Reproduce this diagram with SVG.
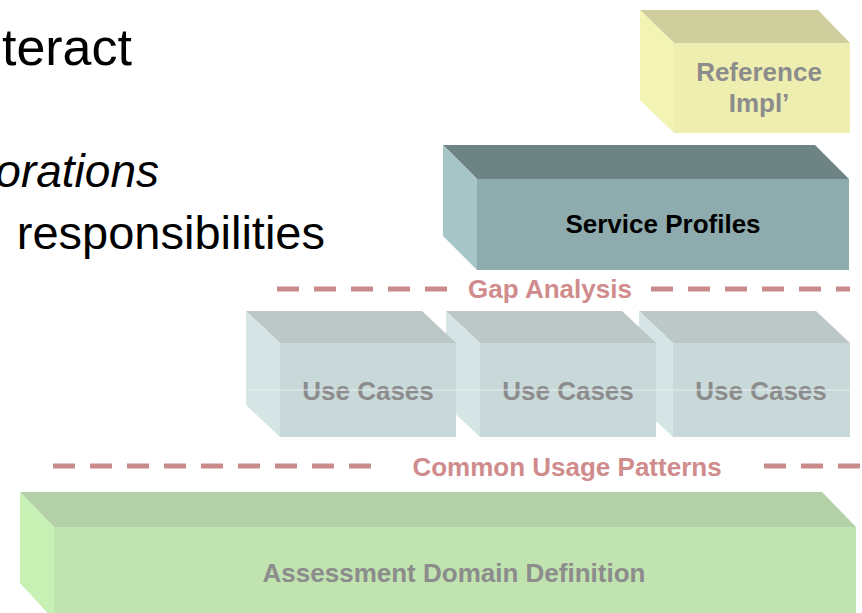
<svg xmlns="http://www.w3.org/2000/svg" width="862" height="613" viewBox="0 0 862 613">
  <style>
    .body { font-family: "Liberation Sans", Arial, sans-serif; fill: #000000; }
    .lbl { font-family: "Liberation Sans", Arial, sans-serif; font-weight: bold; font-size: 26px; text-anchor: middle; fill: #8c8c8c; }
    .sep { stroke: #c98a8a; stroke-width: 5; stroke-dasharray: 22 15; fill: none; }
    .sepText { font-family: "Liberation Sans", Arial, sans-serif; font-weight: bold; font-size: 26px; text-anchor: middle; fill: #d08c8c; }
    .uc-top { fill: #bcc7c7; }
    .uc-front { fill: #c9d9da; }
    .uc-left { fill: #d5e4e5; }
  </style>
  <rect x="0" y="0" width="862" height="613" fill="#ffffff"/>

  <!-- slide body text -->
  <g id="body-text">
    <text class="body" x="132" y="65" font-size="52" text-anchor="end">teract</text>
    <text class="body" x="159" y="187" font-size="46" font-style="italic" text-anchor="end">orations</text>
    <text class="body" x="325" y="249" font-size="47" text-anchor="end">responsibilities</text>
  </g>

  <!-- Reference Impl' -->
  <g id="reference-impl">
    <polygon points="640,10 818,10 850,43 674,43" fill="#cfcf9e"/>
    <polygon points="640,10 674,43 674,133 640,100" fill="#f3f3b3"/>
    <rect x="674" y="43" width="176" height="90" fill="#eeeeb0"/>
    <text class="lbl" x="759" y="81">Reference</text>
    <text class="lbl" x="759" y="112">Impl’</text>
  </g>

  <!-- Service Profiles -->
  <g id="service-profiles">
    <polygon points="443,145 815,145 849,179 477,179" fill="#6e8484"/>
    <polygon points="443,145 477,179 477,270 443,236" fill="#a6c5c7"/>
    <rect x="477" y="179" width="372" height="91" fill="#8eacad"/>
    <text class="lbl" x="663" y="233" style="fill:#000000">Service Profiles</text>
  </g>

  <!-- Use Cases (drawn right to left) -->
  <g id="use-cases-3">
    <polygon class="uc-top" points="639,311 816,311 850,343 673,343"/>
    <polygon class="uc-left" points="639,311 673,343 673,437 639,405"/>
    <rect class="uc-front" x="673" y="343" width="177" height="94"/>
    <text class="lbl" x="761" y="400">Use Cases</text>
  </g>
  <g id="use-cases-2">
    <polygon class="uc-top" points="446,311 622,311 656,343 480,343"/>
    <polygon class="uc-left" points="446,311 480,343 480,437 446,405"/>
    <rect class="uc-front" x="480" y="343" width="176" height="94"/>
    <text class="lbl" x="568" y="400">Use Cases</text>
  </g>
  <g id="use-cases-1">
    <polygon class="uc-top" points="246,311 422,311 456,343 280,343"/>
    <polygon class="uc-left" points="246,311 280,343 280,437 246,405"/>
    <rect class="uc-front" x="280" y="343" width="176" height="94"/>
    <text class="lbl" x="368" y="400">Use Cases</text>
  </g>
  <line x1="246" y1="390" x2="850" y2="390" stroke="#e4ecec" stroke-width="1"/>

  <!-- Assessment Domain Definition -->
  <g id="assessment-domain">
    <polygon points="20,492 822,492 856,527 54,527" fill="#b4d0a6"/>
    <polygon points="20,492 54,527 54,620 20,583" fill="#c6f0b4"/>
    <rect x="54" y="527" width="802" height="93" fill="#c0e3b0"/>
    <text class="lbl" x="454" y="582">Assessment Domain Definition</text>
  </g>

  <!-- separators -->
  <g id="connectors">
    <line class="sep" x1="277" y1="289" x2="448" y2="289"/>
    <line class="sep" x1="651" y1="289" x2="850" y2="289"/>
    <line class="sep" x1="53" y1="466" x2="372" y2="466"/>
    <line class="sep" x1="764" y1="466" x2="862" y2="466"/>
  </g>
  <g id="separator-labels">
    <text class="sepText" x="550" y="298">Gap Analysis</text>
    <text class="sepText" x="567" y="476">Common Usage Patterns</text>
  </g>
</svg>
